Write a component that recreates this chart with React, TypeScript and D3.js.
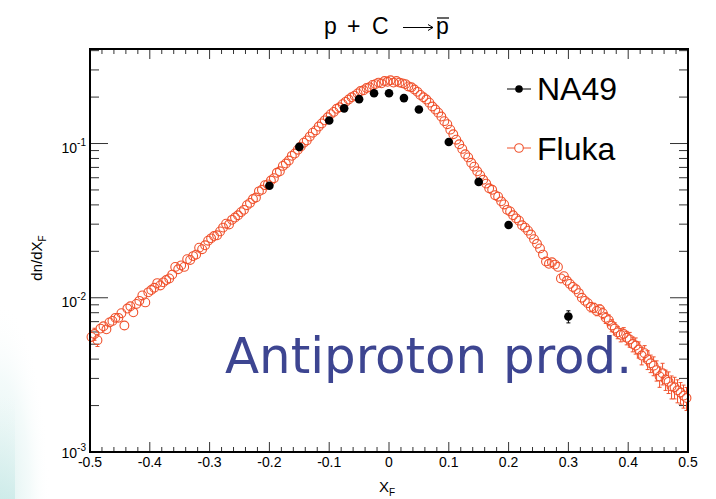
import React from 'react';
import * as d3 from 'd3';

const W = 716;
const H = 499;
const frame = { left: 90, right: 688, top: 49, bottom: 452 };

const xDomain = [-0.5, 0.5];
const yDomain = [1e-3, 0.41];
const xTickValues = [-0.5, -0.4, -0.3, -0.2, -0.1, 0, 0.1, 0.2, 0.3, 0.4, 0.5];
const xTickLabels = ['-0.5', '-0.4', '-0.3', '-0.2', '-0.1', '0', '0.1', '0.2', '0.3', '0.4', '0.5'];
const yTickValues = [1e-3, 1e-2, 1e-1];
const yTickExps = ['-3', '-2', '-1'];

// NA49 data (xF, dn/dxF, relative error)
const na49X = [-0.2, -0.15, -0.1, -0.075, -0.05, -0.025, 0, 0.025, 0.05, 0.1, 0.15, 0.2, 0.3];
const na49Y = [0.0532, 0.0951, 0.141, 0.169, 0.194, 0.212, 0.212, 0.197, 0.166, 0.1024, 0.0564, 0.0296, 0.00755];
const na49Err = [0.03, 0.03, 0.03, 0.03, 0.03, 0.03, 0.03, 0.03, 0.03, 0.03, 0.04, 0.05, 0.09];

// Fluka: 200 bins of width 0.005 from -0.5 to 0.5
const flukaBinStart = -0.5;
const flukaBinWidth = 0.005;
const flukaY = [
  0.00557, 0.00582, 0.00531, 0.00631, 0.00653, 0.00624, 0.00692, 0.00708, 0.00741, 0.00741,
  0.00794, 0.00661, 0.00851, 0.00881, 0.00804, 0.00912, 0.00955, 0.01035, 0.00933, 0.01084,
  0.01122, 0.01161, 0.01245, 0.01202, 0.01259, 0.01303, 0.01334, 0.01413, 0.01585, 0.01531,
  0.01622, 0.01585, 0.01778, 0.01758, 0.01862, 0.01905, 0.02113, 0.02065, 0.02188, 0.02344,
  0.02427, 0.02512, 0.02541, 0.02692, 0.02851, 0.0302, 0.02985, 0.03199, 0.03311, 0.03428,
  0.03589, 0.03715, 0.03981, 0.04121, 0.04365, 0.04467, 0.04898, 0.05012, 0.0537, 0.05433,
  0.05754, 0.05957, 0.06457, 0.06607, 0.07161, 0.07413, 0.07762, 0.08318, 0.0861, 0.0912,
  0.0955, 0.1012, 0.1047, 0.1109, 0.1175, 0.1216, 0.1288, 0.1349, 0.1413, 0.1479,
  0.1549, 0.1603, 0.1679, 0.1718, 0.1799, 0.1862, 0.1928, 0.1995, 0.2042, 0.2113,
  0.2188, 0.2213, 0.2291, 0.2317, 0.2399, 0.2427, 0.2483, 0.2455, 0.2541, 0.2512,
  0.257, 0.2483, 0.2541, 0.2483, 0.2455, 0.2427, 0.2344, 0.2317, 0.2239, 0.2163,
  0.2065, 0.1995, 0.1928, 0.1841, 0.1738, 0.166, 0.1585, 0.1496, 0.1396, 0.1334,
  0.123, 0.1148, 0.1059, 0.0989, 0.09226, 0.08511, 0.08128, 0.07499, 0.07079, 0.06607,
  0.06237, 0.05821, 0.05495, 0.05129, 0.05012, 0.04624, 0.04519, 0.04217, 0.04027, 0.03715,
  0.03631, 0.03428, 0.03273, 0.03162, 0.02951, 0.02851, 0.02723, 0.0257, 0.02399, 0.02239,
  0.02089, 0.01905, 0.01718, 0.0166, 0.01698, 0.01641, 0.01585, 0.01334, 0.0138, 0.01288,
  0.0123, 0.01175, 0.01135, 0.01072, 0.01, 0.00955, 0.00923, 0.00871, 0.00861, 0.00822,
  0.00841, 0.00794, 0.00741, 0.00716, 0.00661, 0.00631, 0.00596, 0.00575, 0.00582, 0.0055,
  0.00537, 0.00501, 0.0049, 0.00462, 0.00422, 0.00437, 0.00398, 0.00376, 0.00363, 0.00339,
  0.00309, 0.00324, 0.00295, 0.00285, 0.00266, 0.00263, 0.00251, 0.00243, 0.00232, 0.00224,
];
const flukaErr = [
  0.05, 0.09, 0.09, 0.05, 0.05, 0.04, 0.04, 0.04, 0.04, 0.04,
  0.03, 0.04, 0.03, 0.03, 0.03, 0.03, 0.03, 0.03, 0.03, 0.03,
  0.03, 0.03, 0.03, 0.03, 0.03, 0.03, 0.03, 0.03, 0.03, 0.03,
  0.03, 0.03, 0.03, 0.03, 0.03, 0.03, 0.03, 0.03, 0.03, 0.03,
  0.02, 0.02, 0.02, 0.02, 0.02, 0.02, 0.02, 0.02, 0.02, 0.02,
  0.02, 0.02, 0.02, 0.02, 0.02, 0.02, 0.02, 0.02, 0.02, 0.02,
  0.02, 0.02, 0.02, 0.02, 0.02, 0.02, 0.02, 0.02, 0.02, 0.02,
  0.02, 0.02, 0.02, 0.02, 0.02, 0.02, 0.02, 0.02, 0.02, 0.02,
  0.02, 0.02, 0.02, 0.02, 0.02, 0.02, 0.02, 0.02, 0.02, 0.02,
  0.02, 0.02, 0.02, 0.02, 0.02, 0.02, 0.02, 0.02, 0.02, 0.02,
  0.02, 0.02, 0.02, 0.02, 0.02, 0.02, 0.02, 0.02, 0.02, 0.02,
  0.02, 0.02, 0.02, 0.02, 0.02, 0.02, 0.02, 0.02, 0.02, 0.02,
  0.02, 0.02, 0.02, 0.02, 0.02, 0.02, 0.02, 0.02, 0.02, 0.02,
  0.02, 0.02, 0.02, 0.02, 0.02, 0.02, 0.02, 0.02, 0.02, 0.02,
  0.02, 0.02, 0.02, 0.02, 0.02, 0.02, 0.02, 0.02, 0.02, 0.02,
  0.03, 0.03, 0.03, 0.03, 0.03, 0.03, 0.03, 0.03, 0.03, 0.03,
  0.05, 0.05, 0.05, 0.06, 0.06, 0.06, 0.06, 0.07, 0.07, 0.07,
  0.07, 0.08, 0.08, 0.08, 0.09, 0.09, 0.09, 0.1, 0.1, 0.1,
  0.11, 0.11, 0.12, 0.12, 0.13, 0.12, 0.14, 0.13, 0.14, 0.15,
  0.15, 0.16, 0.15, 0.16, 0.17, 0.16, 0.17, 0.16, 0.17, 0.17,
];

const FLUKA_COLOR = '#f0522d';
const NA49_COLOR = '#000000';
const FONT = "'Liberation Sans', Arial, Helvetica, sans-serif";

export default function App() {
  const x = d3.scaleLinear().domain(xDomain).range([frame.left, frame.right]);
  const y = d3.scaleLog().domain(yDomain).range([frame.bottom, frame.top]);

  const xMinor = d3.range(0, 51).map((i) => -0.5 + i * 0.02).filter((_, i) => i % 5 !== 0);
  const yMinor: number[] = [];
  yTickValues.forEach((d) => {
    for (let k = 2; k <= 9; k++) {
      const v = k * d;
      if (v <= yDomain[1]) yMinor.push(v);
    }
  });

  const flukaX = flukaY.map((_, i) => flukaBinStart + flukaBinWidth * (i + 0.5));
  const R = 4.4;

  const errBars = (cx: number, v: number, e: number, r: number, color: string, key: string) => {
    const cy = y(v);
    const up = y(v * (1 + e));
    const dn = y(v * (1 - e));
    const parts: any[] = [];
    if (cy - up > r) {
      parts.push(<line key={key + 'u'} x1={cx} x2={cx} y1={cy - r} y2={up} stroke={color} strokeWidth={1} />);
      parts.push(<line key={key + 'uc'} x1={cx - 2} x2={cx + 2} y1={up} y2={up} stroke={color} strokeWidth={1} />);
    }
    if (dn - cy > r) {
      parts.push(<line key={key + 'd'} x1={cx} x2={cx} y1={cy + r} y2={dn} stroke={color} strokeWidth={1} />);
      parts.push(<line key={key + 'dc'} x1={cx - 2} x2={cx + 2} y1={dn} y2={dn} stroke={color} strokeWidth={1} />);
    }
    return parts;
  };

  return (
    <svg
      width={W}
      height={H}
      viewBox={`0 0 ${W} ${H}`}
      style={{ position: 'absolute', left: 0, top: 0, background: '#ffffff' }}
    >
      <defs>
        <radialGradient id="bgGlow" cx="0" cy="1" r="1" gradientUnits="objectBoundingBox">
          <stop offset="0" stopColor="#d6eeec" stopOpacity="0.95" />
          <stop offset="0.6" stopColor="#e8f6f5" stopOpacity="0.5" />
          <stop offset="1" stopColor="#ffffff" stopOpacity="0" />
        </radialGradient>
        <linearGradient id="bgStreak" x1="0" y1="1" x2="0" y2="0">
          <stop offset="0" stopColor="#cdebe9" stopOpacity="0.9" />
          <stop offset="1" stopColor="#e6f5f4" stopOpacity="0" />
        </linearGradient>
      </defs>
      <rect x={0} y={0} width={W} height={H} fill="#ffffff" />
      <rect x={0} y={300} width={50} height={199} fill="url(#bgGlow)" />
      <rect x={0} y={395} width={15} height={104} fill="url(#bgStreak)" />

      {/* title */}
      <g fontFamily={FONT} fontSize={23} fill="#000">
        <text x={324} y={34}>p</text>
        <text x={347} y={34}>+</text>
        <text x={372} y={34}>C</text>
        <text x={436} y={34}>p</text>
      </g>
      <line x1={403} x2={433} y1={27.5} y2={27.5} stroke="#000" strokeWidth={1} />
      <path d="M428,24.5 L433,27.5 L428,30.5" fill="none" stroke="#000" strokeWidth={1} />
      <line x1={437} x2={449} y1={18} y2={18} stroke="#000" strokeWidth={1.2} />

      {/* ticks */}
      <g stroke="#333" strokeWidth={1}>
        {xTickValues.map((v) => (
          <g key={'xt' + v}>
            <line x1={x(v)} x2={x(v)} y1={frame.bottom} y2={frame.bottom - 10} />
            <line x1={x(v)} x2={x(v)} y1={frame.top} y2={frame.top + 10} />
          </g>
        ))}
        {xMinor.map((v) => (
          <g key={'xm' + v}>
            <line x1={x(v)} x2={x(v)} y1={frame.bottom} y2={frame.bottom - 5} />
            <line x1={x(v)} x2={x(v)} y1={frame.top} y2={frame.top + 5} />
          </g>
        ))}
        {yTickValues.map((v) => (
          <g key={'yt' + v}>
            <line x1={frame.left} x2={frame.left + 18} y1={y(v)} y2={y(v)} />
            <line x1={frame.right} x2={frame.right - 18} y1={y(v)} y2={y(v)} />
          </g>
        ))}
        {yMinor.map((v) => (
          <g key={'ym' + v}>
            <line x1={frame.left} x2={frame.left + 9} y1={y(v)} y2={y(v)} />
            <line x1={frame.right} x2={frame.right - 9} y1={y(v)} y2={y(v)} />
          </g>
        ))}
      </g>

      {/* tick labels */}
      <g fontFamily={FONT} fontSize={14} fill="#000">
        {xTickValues.map((v, i) => (
          <text key={'xl' + v} x={x(v)} y={467} textAnchor="middle">
            {xTickLabels[i]}
          </text>
        ))}
        {yTickValues.map((v, i) => (
          <text key={'yl' + v} x={86} y={y(v) + (i === 0 ? 6 : 9)} textAnchor="end">
            10
            <tspan fontSize={10} dy={-7}>
              {yTickExps[i]}
            </tspan>
          </text>
        ))}
      </g>

      {/* axis titles */}
      <text x={387} y={492} fontFamily={FONT} fontSize={15} textAnchor="middle">
        X<tspan fontSize={10} dy={4}>F</tspan>
      </text>
      <text
        transform="translate(42,258) rotate(-90)"
        fontFamily={FONT}
        fontSize={15}
        textAnchor="middle"
      >
        dn/dX<tspan fontSize={10} dy={4}>F</tspan>
      </text>

      {/* Fluka */}
      <g>
        {flukaX.map((xv, i) => errBars(x(xv), flukaY[i], flukaErr[i], R, FLUKA_COLOR, 'fe' + i))}
        {flukaX.map((xv, i) => (
          <circle
            key={'fc' + i}
            cx={x(xv)}
            cy={y(flukaY[i])}
            r={R}
            fill="none"
            stroke={FLUKA_COLOR}
            strokeWidth={1.1}
          />
        ))}
      </g>

      {/* NA49 */}
      <g>
        {na49X.map((xv, i) => errBars(x(xv), na49Y[i], na49Err[i], 4.3, NA49_COLOR, 'ne' + i))}
        {na49X.map((xv, i) => (
          <circle key={'nc' + i} cx={x(xv)} cy={y(na49Y[i])} r={4.3} fill={NA49_COLOR} />
        ))}
      </g>

      {/* frame */}
      <rect
        x={frame.left}
        y={frame.top}
        width={frame.right - frame.left}
        height={frame.bottom - frame.top}
        fill="none"
        stroke="#000"
        strokeWidth={2}
      />

      {/* legend */}
      <g fontFamily={FONT} fontSize={32} fill="#000">
        <line x1={507} x2={531} y1={89} y2={89} stroke={NA49_COLOR} strokeWidth={1} />
        <circle cx={519} cy={89} r={3.8} fill={NA49_COLOR} />
        <text x={537} y={100}>NA49</text>
        <line x1={507} x2={531} y1={148} y2={148} stroke={FLUKA_COLOR} strokeWidth={1} />
        <circle cx={519} cy={148} r={4.3} fill="#fff" stroke={FLUKA_COLOR} strokeWidth={1.1} />
        <text x={537} y={160}>Fluka</text>
      </g>

      {/* annotation */}
      <text
        x={225}
        y={373}
        fontFamily="'Comic Sans MS', 'DejaVu Sans', sans-serif"
        fontSize={50}
        fill="#3d4591"
        textLength={407}
        lengthAdjust="spacingAndGlyphs"
      >
        Antiproton prod.
      </text>
    </svg>
  );
}
